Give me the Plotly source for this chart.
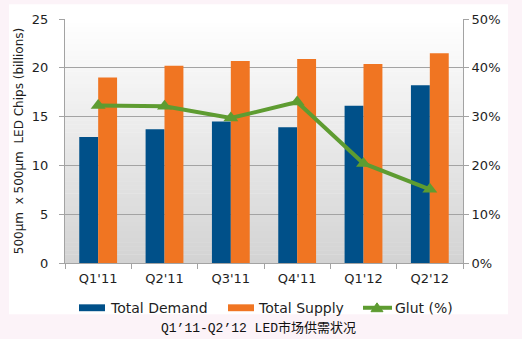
import plotly.graph_objects as go

# Quarterly LED chip market data
quarters = ["Q1'11", "Q2'11", "Q3'11", "Q4'11", "Q1'12", "Q2'12"]
total_demand = [12.9, 13.7, 14.5, 13.9, 16.1, 18.2]     # billions of chips
total_supply = [19.0, 20.2, 20.7, 20.9, 20.4, 21.5]     # billions of chips
glut_pct = [32.3, 32.1, 29.7, 33.0, 20.4, 15.1]         # %

BLUE = "#005089"
ORANGE = "#f07522"
GREEN = "#5e9c31"
GRID = "#a3a3a3"
TXT = "#1e1e1e"
FONT = "DejaVu Sans"

W, H = 522, 339
L, R, T, B = 65, 59, 15, 76
PW, PH = W - L - R, H - T - B


def px_x(p):
    return (p - L) / PW


def px_y(p):
    return (H - B - p) / PH


fig = go.Figure()
fig.add_trace(go.Bar(x=quarters, y=total_demand, name="Total Demand",
                     marker=dict(color=BLUE, line=dict(width=0))))
fig.add_trace(go.Bar(x=quarters, y=total_supply, name="Total Supply",
                     marker=dict(color=ORANGE, line=dict(width=0))))
fig.add_trace(go.Scatter(x=quarters, y=glut_pct, name="Glut (%)", yaxis="y2",
                         mode="lines+markers",
                         line=dict(color=GREEN, width=4),
                         marker=dict(symbol="triangle-up", size=13, color=GREEN)))

shapes = []
# white chart panel on the tinted page
shapes.append(dict(type="rect", xref="paper", yref="paper", layer="below",
                   x0=px_x(9), x1=px_x(508), y0=px_y(315), y1=px_y(0),
                   fillcolor="white", line=dict(width=0)))
# vertical gradient behind the plot area
n = 60
c_top, c_bot = (255, 255, 255), (211, 211, 211)
for i in range(n):
    f = (i + 0.5) / n
    c = tuple(round(c_bot[k] + (c_top[k] - c_bot[k]) * f) for k in range(3))
    shapes.append(dict(type="rect", xref="paper", yref="paper", layer="below",
                       x0=0, x1=1, y0=i / n, y1=(i + 1) / n + 0.002,
                       fillcolor="rgb(%d,%d,%d)" % c, line=dict(width=0)))

# legend drawn as swatches + labels
ly = 308.5
shapes.append(dict(type="rect", xref="paper", yref="paper",
                   x0=px_x(79), x1=px_x(105), y0=px_y(ly + 3.5), y1=px_y(ly - 3.5),
                   fillcolor=BLUE, line=dict(width=0)))
shapes.append(dict(type="rect", xref="paper", yref="paper",
                   x0=px_x(228), x1=px_x(254), y0=px_y(ly + 3.5), y1=px_y(ly - 3.5),
                   fillcolor=ORANGE, line=dict(width=0)))
shapes.append(dict(type="line", xref="paper", yref="paper",
                   x0=px_x(363), x1=px_x(392), y0=px_y(ly), y1=px_y(ly),
                   line=dict(color=GREEN, width=4)))
shapes.append(dict(type="path", xref="paper", yref="paper",
                   path="M %f %f L %f %f L %f %f Z" % (
                       px_x(371), px_y(ly + 4), px_x(383), px_y(ly + 4),
                       px_x(377), px_y(ly - 5)),
                   fillcolor=GREEN, line=dict(color=GREEN, width=1)))

annotations = []
for xpos, label in [(108, "Total Demand"), (256, "Total Supply"), (393, "Glut (%)")]:
    annotations.append(dict(text=label, xref="paper", yref="paper",
                            x=px_x(xpos), y=px_y(ly), xanchor="left", yanchor="middle",
                            showarrow=False, font=dict(family=FONT, size=14, color=TXT)))
annotations.append(dict(text="Q1’11-Q2’12 LED市场供需状况", xref="paper", yref="paper",
                        x=px_x(258), y=px_y(329), xanchor="center", yanchor="middle",
                        showarrow=False,
                        font=dict(family="Liberation Mono, Noto Sans CJK SC", size=13,
                                  color="#111111")))

fig.update_layout(
    width=W, height=H,
    margin=dict(l=L, r=R, t=T, b=B, pad=0),
    paper_bgcolor="#fcf3f8",
    plot_bgcolor="rgba(0,0,0,0)",
    barmode="group", bargap=0.43, bargroupgap=0,
    showlegend=False,
    font=dict(family=FONT, size=13, color=TXT),
    shapes=shapes,
    annotations=annotations,
    xaxis=dict(showgrid=False, showline=True, linecolor=GRID, linewidth=1,
               ticks="outside", ticklen=5, tickcolor=GRID, tickson="boundaries",
               ticklabelstandoff=3,
               tickfont=dict(size=13, color=TXT), fixedrange=True),
    yaxis=dict(range=[0, 25], dtick=5, showgrid=True, gridcolor=GRID, gridwidth=1,
               showline=True, linecolor=GRID, linewidth=1, zeroline=False,
               ticks="outside", ticklen=5, tickcolor=GRID, ticklabelstandoff=8,
               tickfont=dict(size=13, color=TXT),
               title=dict(text="500µm  x 500µm  LED Chips (billions)",
                          font=dict(size=12, color=TXT), standoff=5)),
    yaxis2=dict(range=[0, 50], dtick=10, overlaying="y", side="right",
                showgrid=False, showline=True, linecolor=GRID, linewidth=1,
                zeroline=False, ticks="outside", ticklen=5, tickcolor=GRID,
                ticksuffix="%", tickfont=dict(size=13, color=TXT)),
)

fig.write_html("out.html")
